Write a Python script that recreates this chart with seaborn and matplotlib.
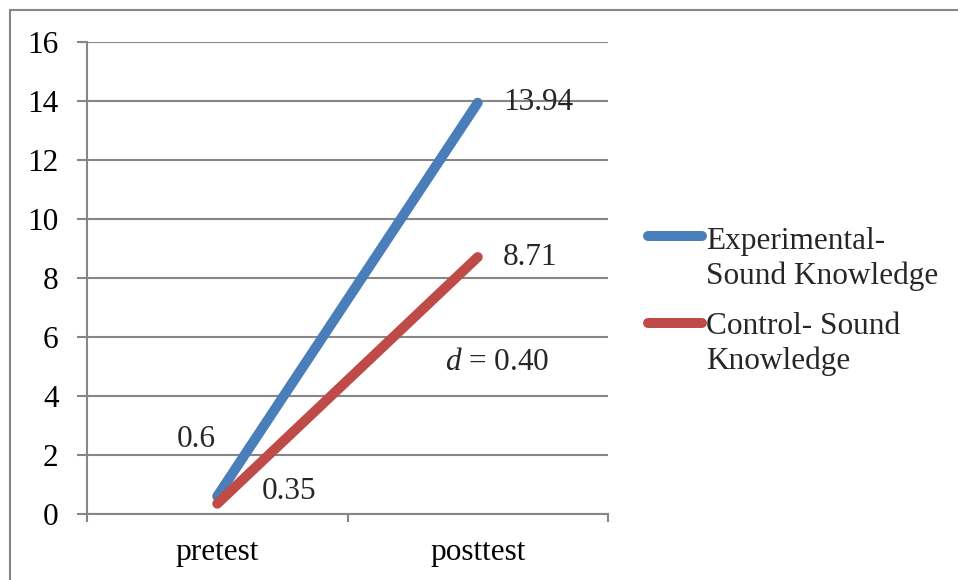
import matplotlib
matplotlib.use("Agg")
import matplotlib.pyplot as plt
from matplotlib.lines import Line2D
import seaborn as sns
import pandas as pd

# Test phases and mean scores per group
phases = ["pretest", "posttest"]
experimental = [0.6, 13.94]
control = [0.35, 8.71]
groups = ["Experimental-\nSound Knowledge", "Control- Sound\nKnowledge"]
effect_size = "0.40"
y_ticks = [0, 2, 4, 6, 8, 10, 12, 14, 16]

colors = ["#4A7EBB", "#BE4B48"]
grid_gray = "#868686"

sns.set_theme(style="white")
plt.rcParams["font.family"] = ["Liberation Serif", "DejaVu Serif"]
plt.rcParams["mathtext.fontset"] = "custom"
plt.rcParams["mathtext.it"] = "Liberation Serif:italic"
plt.rcParams["mathtext.rm"] = "Liberation Serif"

df = pd.DataFrame({
    "phase": list(range(len(phases))) * 2,
    "score": experimental + control,
    "group": [groups[0]] * len(phases) + [groups[1]] * len(phases),
})

fig = plt.figure(figsize=(9.58, 5.80), dpi=100)
ax = fig.add_axes([87 / 958, 66 / 580, 521 / 958, 472 / 580])

sns.lineplot(data=df, x="phase", y="score", hue="group", palette=colors,
             linewidth=7.2, solid_capstyle="round", legend=False, ax=ax)

fs = 22.5
ax.set_xlim(-0.5, len(phases) - 0.5)
ax.set_ylim(0, 16)
ax.set_yticks(y_ticks)
ax.set_yticklabels([str(v) for v in y_ticks], fontsize=fs)
ax.set_xticks(range(len(phases)))
ax.set_xticklabels(phases, fontsize=fs)
ax.set_xticks([i - 0.5 for i in range(len(phases) + 1)], minor=True)
ax.set_xlabel("")
ax.set_ylabel("")

ax.yaxis.grid(True, color=grid_gray, linewidth=1.5)
ax.set_axisbelow(True)
ax.tick_params(axis="y", which="major", left=True, length=7.5, width=1.5,
               color=grid_gray, pad=13, labelcolor="black")
ax.tick_params(axis="x", which="major", bottom=False, length=0, pad=17,
               labelcolor="black")
ax.tick_params(axis="x", which="minor", bottom=True, length=6, width=1.5,
               color=grid_gray)
for side in ["top", "right"]:
    ax.spines[side].set_visible(False)
for side in ["left", "bottom"]:
    ax.spines[side].set_color(grid_gray)
    ax.spines[side].set_linewidth(1.5)

# Value labels beside each point
ax.annotate(f"{experimental[1]:.2f}", (1, experimental[1]), xytext=(18, 0),
            textcoords="offset points", ha="left", va="center", fontsize=fs)
ax.annotate(f"{control[1]:.2f}", (1, control[1]), xytext=(18, 0),
            textcoords="offset points", ha="left", va="center", fontsize=fs)
ax.annotate(f"{experimental[0]:g}", (0, experimental[0]), xytext=(-1, 41),
            textcoords="offset points", ha="right", va="center", fontsize=fs)
ax.annotate(f"{control[0]:.2f}", (0, control[0]), xytext=(32, 9),
            textcoords="offset points", ha="left", va="center", fontsize=fs)
ax.text(1.075, 5.12, f"$d$ = {effect_size}", ha="center", va="center",
        fontsize=fs)

# Legend to the right of the plot; each handle sits beside the first text line
for i, (label, color) in enumerate(zip(groups, colors)):
    y_line = 1 - (236 + 87 * i) / 580
    y_last_base = 1 - (284 + 85 * i) / 580
    fig.add_artist(Line2D([648 / 958, 702 / 958], [y_line, y_line],
                          color=color, linewidth=7.2, solid_capstyle="round"))
    fig.text(706 / 958, y_last_base, label, ha="left", va="baseline",
             fontsize=fs, linespacing=1.25)

# Frame along the top and left edges
fig.add_artist(Line2D([10 / 958, 1], [1 - 9.5 / 580, 1 - 9.5 / 580],
                      color=grid_gray, linewidth=1.5))
fig.add_artist(Line2D([10 / 958, 10 / 958], [0, 1 - 9.5 / 580],
                      color=grid_gray, linewidth=1.5))

fig.savefig("out.png", dpi=100)
